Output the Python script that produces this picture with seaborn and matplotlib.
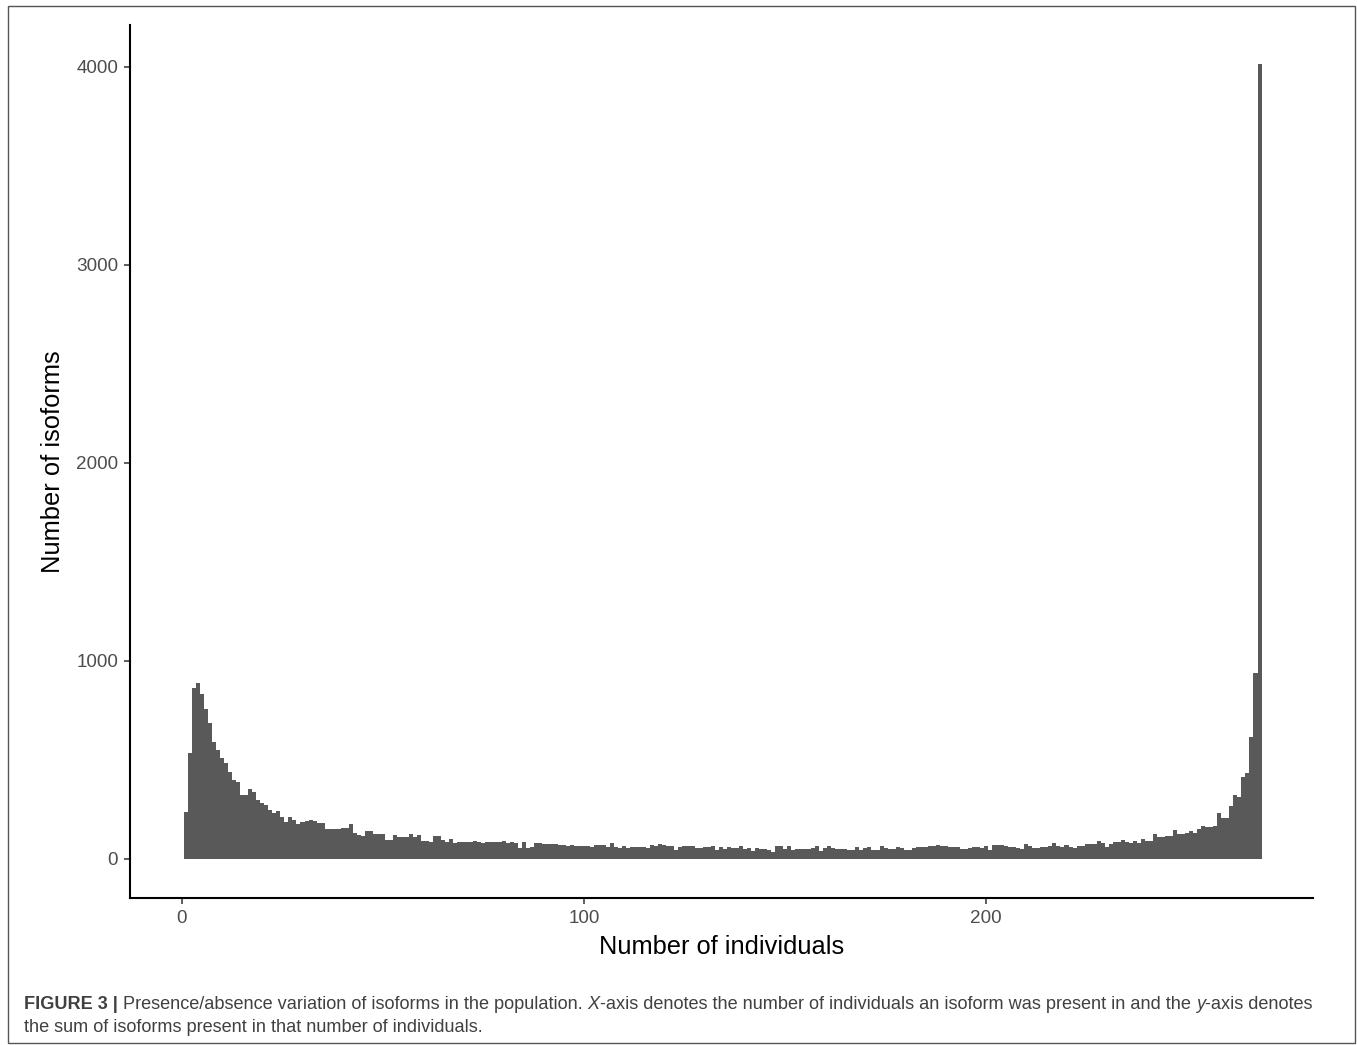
import matplotlib
matplotlib.use("Agg")
import matplotlib.pyplot as plt
import seaborn as sns
import pandas as pd
from matplotlib.patches import Rectangle

# ---------------- data ----------------
individuals = list(range(1, 269))
isoform_counts = [
    236, 537, 865, 887, 832, 759, 685, 591, 551, 508,
    483, 441, 399, 391, 325, 325, 352, 338, 300, 283,
    273, 246, 234, 241, 214, 189, 210, 197, 178, 185,
    192, 195, 192, 182, 182, 153, 153, 153, 150, 158,
    155, 178, 129, 121, 115, 143, 143, 125, 124, 125,
    94, 94, 120, 111, 111, 111, 128, 111, 120, 91,
    91, 87, 115, 115, 98, 86, 99, 79, 87, 87,
    87, 84, 91, 84, 79, 86, 86, 86, 86, 91,
    79, 86, 81, 57, 84, 56, 61, 79, 81, 77,
    77, 74, 76, 69, 72, 66, 71, 67, 67, 67,
    67, 59, 71, 71, 72, 61, 79, 63, 57, 67,
    57, 62, 61, 63, 61, 57, 69, 66, 74, 71,
    64, 64, 47, 61, 66, 66, 66, 54, 54, 63,
    63, 66, 46, 61, 51, 61, 54, 54, 66, 51,
    56, 42, 57, 51, 51, 46, 37, 64, 64, 49,
    64, 47, 51, 51, 51, 51, 56, 67, 40, 57,
    66, 56, 52, 48, 51, 46, 46, 63, 46, 56,
    61, 44, 44, 66, 54, 51, 51, 59, 54, 46,
    46, 57, 61, 61, 63, 66, 66, 72, 66, 66,
    61, 59, 59, 52, 52, 57, 63, 63, 57, 64,
    46, 69, 69, 69, 66, 61, 61, 57, 49, 74,
    64, 54, 54, 63, 63, 64, 81, 66, 61, 69,
    63, 57, 66, 67, 76, 76, 76, 89, 81, 61,
    76, 86, 86, 96, 88, 81, 93, 81, 99, 93,
    89, 126, 113, 111, 116, 116, 146, 125, 125, 131,
    141, 130, 153, 167, 163, 163, 165, 234, 205, 205,
    269, 323, 311, 412, 436, 614, 938, 4015,
]
x_ticks = [0, 100, 200]
y_ticks = [0, 1000, 2000, 3000, 4000]
x_label = "Number of individuals"
y_label = "Number of isoforms"
caption_line1 = [
    ("FIGURE 3 |", "bold", "normal"),
    (" ", "normal", "normal"),
    ("Presence/absence variation of isoforms in the population.", "normal", "normal"),
    (" ", "normal", "normal"),
    ("X", "normal", "italic"),
    ("-axis denotes the number of individuals an isoform was present in and the", "normal", "normal"),
    (" ", "normal", "normal"),
    ("y", "normal", "italic"),
    ("-axis denotes", "normal", "normal"),
]
caption_line2 = [
    ("the sum of isoforms present in that number of individuals.", "normal", "normal"),
]

# ---------------- style ----------------
sns.set_theme(style="ticks")
plt.rcParams['font.family'] = ['Liberation Sans', 'DejaVu Sans']

W, H = 1357, 1045
fig = plt.figure(figsize=(W / 100, H / 100), dpi=100)
fig.patch.set_facecolor("white")

ax = fig.add_axes([130 / W, 1 - 898 / H, (1313 - 130) / W, (898 - 25) / H])
df = pd.DataFrame({"individuals": individuals, "isoforms": isoform_counts})
sns.histplot(data=df, x="individuals", weights="isoforms", discrete=True,
             color="#595959", alpha=1, linewidth=0, edgecolor="none", ax=ax)

ax.set_xlim(-12.9, 281.3)
ax.set_ylim(-197, 4212)
ax.set_xticks(x_ticks)
ax.set_yticks(y_ticks)
ax.set_xticklabels([str(v) for v in x_ticks])
ax.set_yticklabels([str(v) for v in y_ticks])
ax.tick_params(axis="both", length=4.5, width=1.1, color="#333333",
               labelcolor="#4D4D4D", labelsize=13.6, pad=4)
ax.set_xlabel(x_label, fontsize=18.3, color="black", labelpad=6)
ax.set_ylabel(y_label, fontsize=18.4, color="black", labelpad=8)
for side in ["top", "right"]:
    ax.spines[side].set_visible(False)
for side in ["left", "bottom"]:
    ax.spines[side].set_color("black")
    ax.spines[side].set_linewidth(1.5)
ax.set_facecolor("white")
ax.grid(False)

# figure frame
fig.patches.append(Rectangle((8 / W, 1 - 1043 / H), (1355 - 8) / W, (1043 - 6) / H,
                             transform=fig.transFigure, fill=False,
                             edgecolor="#555555", linewidth=1.0))

# ---------------- caption ----------------
cap_family = ['Liberation Sans', 'DejaVu Sans']
renderer = fig.canvas.get_renderer()


def measure(txt, weight, style, size):
    if txt == " ":
        a = fig.text(0, 0, "x x", fontsize=size, fontweight=weight, fontstyle=style, family=cap_family)
        b = fig.text(0, 0, "xx", fontsize=size, fontweight=weight, fontstyle=style, family=cap_family)
        w = a.get_window_extent(renderer).width - b.get_window_extent(renderer).width
        a.remove(); b.remove()
        return w
    t = fig.text(0, 0, txt, fontsize=size, fontweight=weight, fontstyle=style, family=cap_family)
    w = t.get_window_extent(renderer).width
    t.remove()
    return w


def draw_line(pieces, x0, y0, size):
    x = x0
    for txt, weight, style in pieces:
        w = measure(txt, weight, style, size)
        if txt != " ":
            fig.text(x / W, 1 - y0 / H, txt, fontsize=size, fontweight=weight,
                     fontstyle=style, family=cap_family, color="#404040",
                     ha="left", va="baseline")
        x += w


base = 12.0
total = sum(measure(t, w, s, base) for t, w, s in caption_line1)
cap_size = base * (1316 - 24) / total
draw_line(caption_line1, 24, 1009, cap_size)
draw_line(caption_line2, 24, 1032, cap_size)

fig.savefig("out.png", dpi=100, facecolor="white")
